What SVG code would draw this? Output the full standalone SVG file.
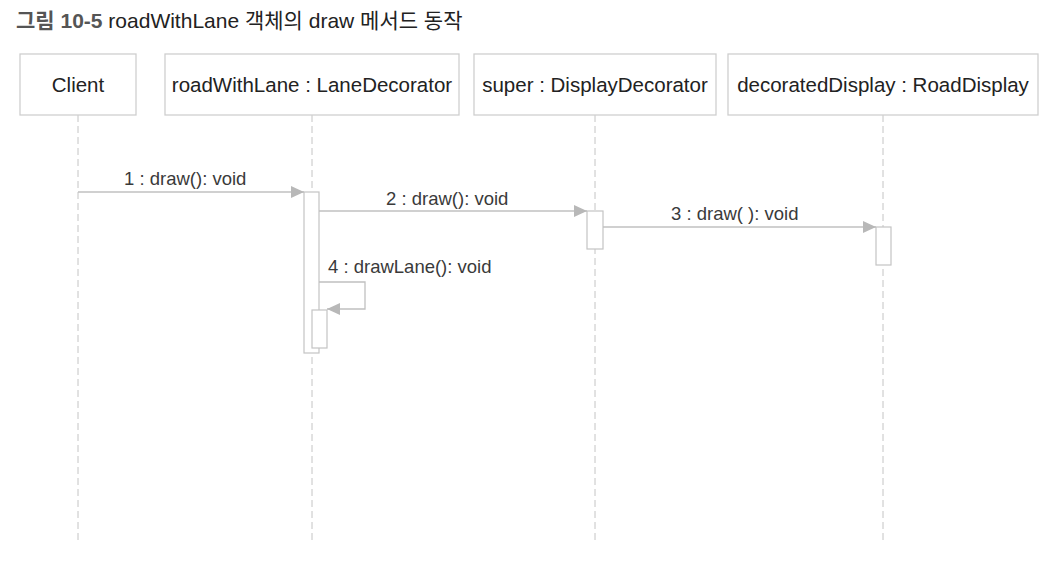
<svg xmlns="http://www.w3.org/2000/svg" width="1062" height="561" viewBox="0 0 1062 561">
<style>
.box{fill:#fff;stroke:#cfcfcf;stroke-width:1.3}
.bar{fill:#fff;stroke:#c4c4c4;stroke-width:1.2}
.life{stroke:#c4c4c4;stroke-width:1;stroke-dasharray:7 4;fill:none}
.msg{stroke:#c0c0c0;stroke-width:1.3;fill:none}
.name{font-family:"Liberation Sans",Arial,sans-serif;font-size:20.5px;fill:#222;text-anchor:middle}
.lbl{font-family:"Liberation Sans",Arial,sans-serif;font-size:18.5px;fill:#3a3a3a}
.title{font-family:"Liberation Sans","Noto Sans CJK KR",sans-serif;font-size:21px;fill:#222}
</style>
<defs>
<marker id="arr" markerWidth="13" markerHeight="12" refX="13" refY="6" orient="auto" markerUnits="userSpaceOnUse">
<path d="M0,0 L13,6 L0,12 Z" fill="#b8b8b8"/>
</marker>
</defs>
<rect width="1062" height="561" fill="#fff"/>
<text class="title" x="16" y="28"><tspan font-weight="bold" fill="#555">그림 10-5</tspan> roadWithLane 객체의 draw 메서드 동작</text>
<g id="lifelines">
<line class="life" x1="78" y1="115" x2="78" y2="541"/>
<line class="life" x1="312" y1="115" x2="312" y2="541"/>
<line class="life" x1="595" y1="115" x2="595" y2="541"/>
<line class="life" x1="883" y1="115" x2="883" y2="541"/>
</g>
<g id="client">
<rect class="box" x="20" y="54" width="116" height="61"/>
<text class="name" x="78" y="92">Client</text>
</g>
<g id="roadWithLane">
<rect class="box" x="165" y="54" width="294" height="61"/>
<text class="name" x="312" y="92">roadWithLane : LaneDecorator</text>
<rect class="bar" x="304" y="192" width="15" height="161"/>
<rect class="bar" x="312" y="310" width="15" height="38"/>
</g>
<g id="super">
<rect class="box" x="474" y="54" width="242" height="61"/>
<text class="name" x="595" y="92">super : DisplayDecorator</text>
<rect class="bar" x="587" y="211" width="16" height="38"/>
</g>
<g id="decoratedDisplay">
<rect class="box" x="728" y="54" width="310" height="61"/>
<text class="name" x="883" y="92">decoratedDisplay : RoadDisplay</text>
<rect class="bar" x="876" y="227" width="15" height="38"/>
</g>
<g id="messages">
<line class="msg" x1="78" y1="192" x2="304" y2="192" marker-end="url(#arr)"/>
<text class="lbl" x="124" y="185">1 : draw(): void</text>
<line class="msg" x1="319" y1="211" x2="587" y2="211" marker-end="url(#arr)"/>
<text class="lbl" x="386" y="205">2 : draw(): void</text>
<line class="msg" x1="603" y1="227" x2="876" y2="227" marker-end="url(#arr)"/>
<text class="lbl" x="671" y="220">3 : draw( ): void</text>
<path class="msg" d="M319,282 H365 V309 H327" marker-end="url(#arr)"/>
<text class="lbl" x="328" y="273">4 : drawLane(): void</text>
</g>
</svg>
